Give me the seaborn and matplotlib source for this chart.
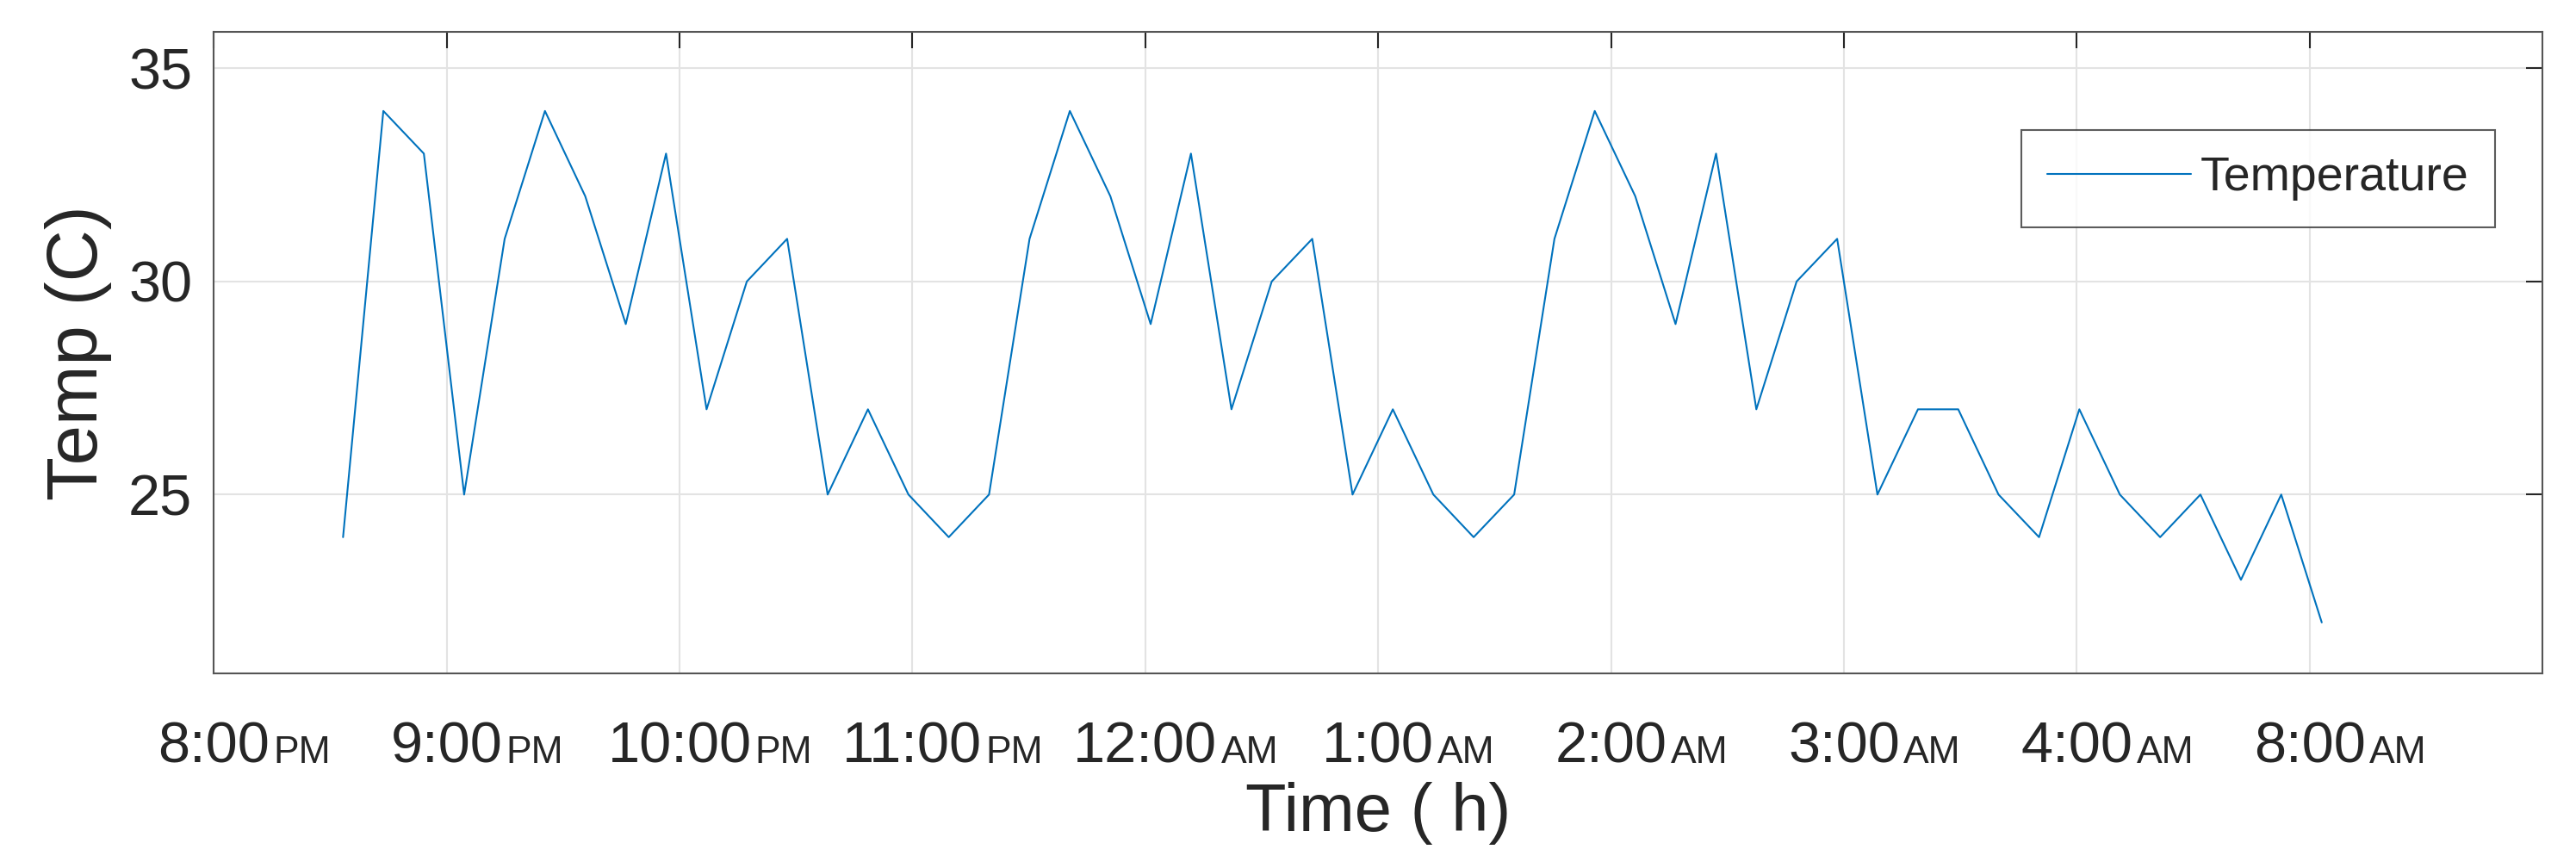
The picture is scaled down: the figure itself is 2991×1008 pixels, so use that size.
import numpy as np
import pandas as pd
import matplotlib
matplotlib.use("Agg")
import matplotlib.pyplot as plt
import seaborn as sns

# readings, roughly every 10.4 minutes starting ~8:33 PM (hours after 8 PM)
hours = np.round(0.555 + np.arange(50) * 0.1734, 3)
temps = [24, 34, 33, 25, 31, 34, 32, 29, 33, 27, 30, 31, 25, 27, 25, 24, 25,
         31, 34, 32, 29, 33, 27, 30, 31, 25, 27, 25, 24, 25, 31, 34, 32, 29,
         33, 27, 30, 31, 25, 27, 27, 25, 24, 27, 25, 24, 25, 23, 25, 22]
tick_pos = list(range(10))
tick_nums = ["8:00", "9:00", "10:00", "11:00", "12:00", "1:00", "2:00",
             "3:00", "4:00", "8:00"]
tick_suffix = ["PM", "PM", "PM", "PM", "AM", "AM", "AM", "AM", "AM", "AM"]

df = pd.DataFrame({"hours": hours, "Temperature": temps})

sns.set_style("white")
plt.rcParams["font.family"] = ["Liberation Sans", "DejaVu Sans"]

fig = plt.figure(figsize=(29.91, 10.08), dpi=100)
ax = fig.add_axes([0.083, 0.224, 0.904, 0.739])

sns.lineplot(data=df, x="hours", y="Temperature", ax=ax, color="#0072BD",
             linewidth=1.5, label="Temperature")

ax.set_xlim(0, 10)
ax.set_ylim(20.8, 35.85)
ax.set_yticks([25, 30, 35])
ax.set_xticks(tick_pos)
ax.set_xticklabels(tick_nums)
ax.grid(True, color="#e3e3e3", linewidth=1.5)
ax.tick_params(axis="both", direction="in", length=14, width=1.5,
               top=True, right=True, labelsize=48, colors="#262626")
ax.tick_params(axis="x", pad=40)
ax.tick_params(axis="y", pad=18)
for s in ax.spines.values():
    s.set_color("#555555")
    s.set_linewidth(1.5)

fig.canvas.draw()
for lab, suf in zip(ax.get_xticklabels(), tick_suffix):
    ax.annotate(suf, xy=(1, 0.08), xycoords=lab, xytext=(3, 0),
                textcoords="offset points", fontsize=32, color="#262626",
                ha="left", va="bottom")

ax.set_xlabel("Time ( h)", fontsize=56, color="#262626", labelpad=6)
ax.set_ylabel("Temp (C)", fontsize=60, color="#262626", labelpad=14)

leg = ax.legend(loc="upper right", bbox_to_anchor=(0.99, 0.885), fontsize=40,
                frameon=True, fancybox=False, handlelength=3.0,
                handletextpad=0.2, borderpad=0.55)
leg.get_frame().set_edgecolor("#333333")
leg.get_frame().set_linewidth(1.5)

fig.savefig("out.png", dpi=100)
